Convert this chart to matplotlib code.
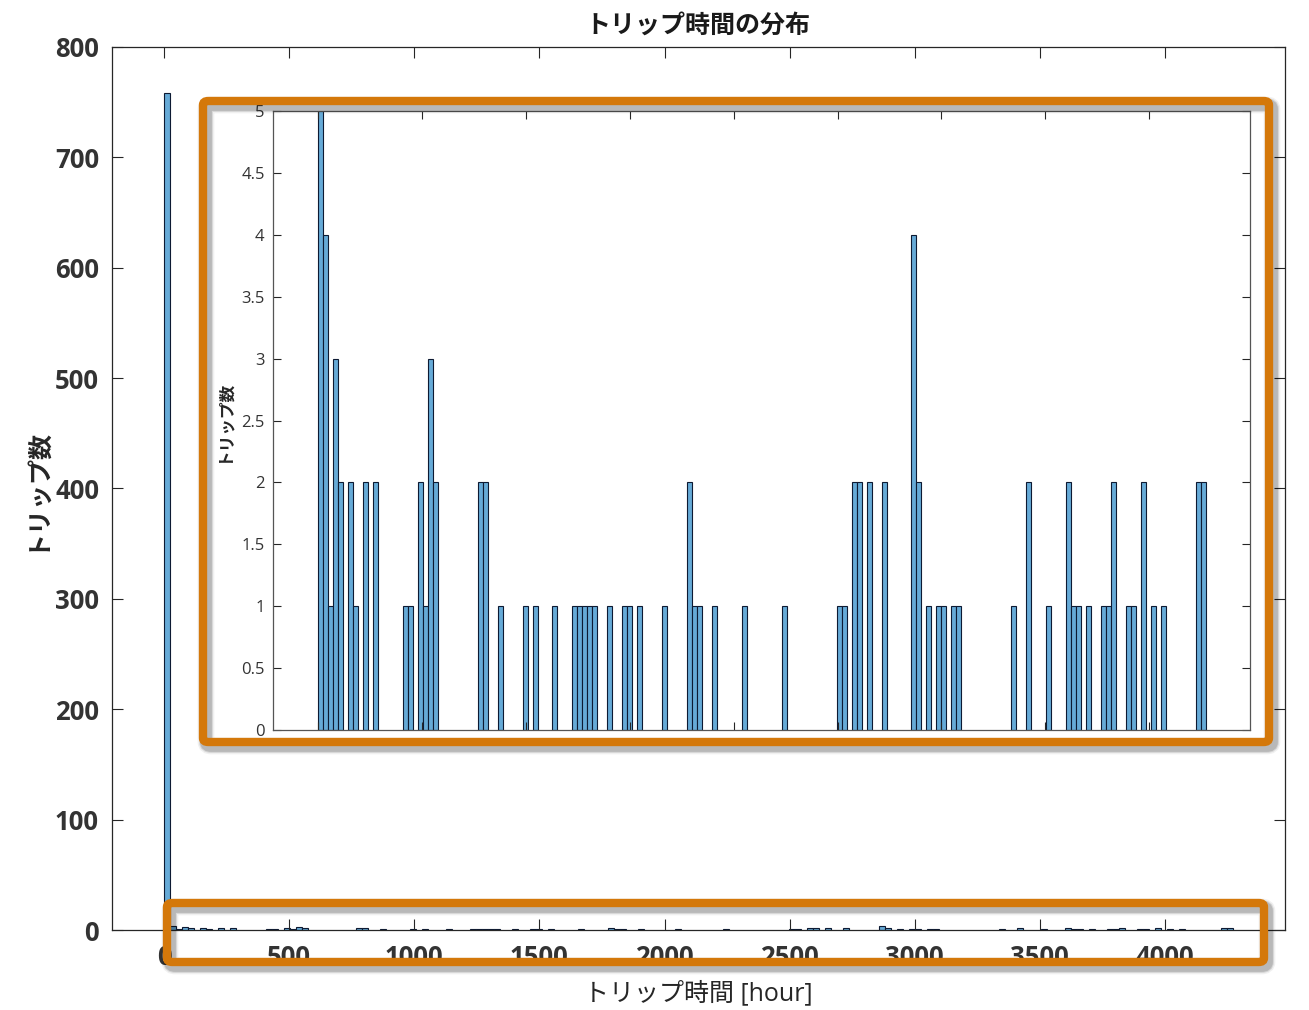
import numpy as np
import matplotlib
matplotlib.use('Agg')
import matplotlib.pyplot as plt
from matplotlib.patches import FancyBboxPatch

plt.rcParams['font.family'] = ['Open Sans', 'Noto Sans CJK JP', 'DejaVu Sans']

# histogram of trip durations, 24 hour bins (left edges in hours)
bin_width = 24
bin_index = [0, 1, 2, 3, 4, 6, 7, 9, 11, 17, 18, 20, 21, 22, 23, 32, 33, 36, 41, 43,
             47, 51, 52, 53, 54, 55, 58, 61, 62, 64, 69, 74, 75, 76, 79, 85, 93,
             104, 105, 107, 108, 110, 113, 119, 120, 122, 124, 125, 127, 128, 139,
             142, 146, 150, 151, 152, 154, 157, 158, 159, 162, 163, 165, 167, 169,
             176, 177]
trip_counts = [758, 4, 1, 3, 2, 2, 1, 2, 2, 1, 1, 2, 1, 3, 2, 2, 2, 1, 1, 1,
               1, 1, 1, 1, 1, 1, 1, 1, 1, 1, 1, 2, 1, 1, 1, 1, 1,
               1, 1, 2, 2, 2, 2, 4, 2, 1, 1, 1, 1, 1, 1,
               2, 1, 2, 1, 1, 1, 1, 1, 2, 1, 1, 2, 1, 1,
               2, 2]
bin_left = [k * bin_width for k in bin_index]

x_ticks = [0, 500, 1000, 1500, 2000, 2500, 3000, 3500, 4000]
y_ticks_main = [0, 100, 200, 300, 400, 500, 600, 700, 800]
y_ticks_inset = [0, 0.5, 1, 1.5, 2, 2.5, 3, 3.5, 4, 4.5, 5]
x_limits_main = (-210, 4480)
x_limits_inset = (-217, 4486)

bar_face = (0.40, 0.667, 0.843)
bar_edge = (0.05, 0.1, 0.2)
axis_col = '#262626'
label_col = '#333333'
orange = '#D4780A'

fig = plt.figure(figsize=(13.09, 10.10), dpi=100)

# main axes
ax = fig.add_axes([0.0852, 0.0792, 0.8965, 0.8743])
ax.bar(bin_left, trip_counts, width=bin_width, align='edge',
       color=bar_face, edgecolor=bar_edge, linewidth=0.8)
ax.set_xlim(*x_limits_main)
ax.set_ylim(0, 800)
ax.set_xticks(x_ticks)
ax.set_yticks(y_ticks_main)
ax.tick_params(direction='in', length=8, width=0.8, color=axis_col,
               top=True, right=True, labelsize=18.5, labelcolor=label_col)
ax.tick_params(axis='x', pad=10)
ax.tick_params(axis='y', pad=9)
for lab in ax.get_xticklabels() + ax.get_yticklabels():
    lab.set_fontweight('bold')
for s in ax.spines.values():
    s.set_color(axis_col)
    s.set_linewidth(0.9)
ax.set_title('トリップ時間の分布', fontsize=18, fontweight='bold', color='#1a1a1a', pad=10)
ax.set_xlabel('トリップ時間 [hour]', fontsize=18, color='#262626', labelpad=7)
ax.set_ylabel('トリップ数', fontsize=18, fontweight='bold', color='#262626', labelpad=5)

# zoomed inset of the same histogram
ins = fig.add_axes([0.2086, 0.2772, 0.7464, 0.6129])
ins.bar(bin_left, trip_counts, width=bin_width, align='edge',
        color=bar_face, edgecolor=bar_edge, linewidth=0.8)
ins.set_xlim(*x_limits_inset)
ins.set_ylim(0, 5)
ins.set_xticks(x_ticks)
ins.set_xticklabels([])
ins.set_yticks(y_ticks_inset)
ins.set_yticklabels([f'{v:g}' for v in y_ticks_inset])
ins.tick_params(direction='in', length=6, width=0.8, color=axis_col,
                top=True, right=True, labelsize=12, labelcolor=label_col, pad=6)
for s in ins.spines.values():
    s.set_color('#555555')
    s.set_linewidth(0.9)
ins.set_ylabel('トリップ数', fontsize=12, fontweight='bold', color='#262626', labelpad=6)

# orange highlight boxes (pixel coords -> figure fraction)
W, H = 1309, 1010


def add_box(x0, y0, x1, y1):
    fx, fy = x0 / W, 1 - y1 / H
    fw, fh = (x1 - x0) / W, (y1 - y0) / H
    for k, a in [(6, 0.06), (4, 0.10), (2.5, 0.14)]:
        shadow = FancyBboxPatch((fx + 3 / W, fy - 4 / H), fw, fh,
                                boxstyle='round,pad=0,rounding_size=0.004',
                                transform=fig.transFigure, fill=False,
                                edgecolor='#000000', alpha=a, linewidth=6 + k)
        fig.add_artist(shadow)
    box = FancyBboxPatch((fx, fy), fw, fh,
                         boxstyle='round,pad=0,rounding_size=0.004',
                         transform=fig.transFigure, fill=False,
                         edgecolor=orange, linewidth=6)
    fig.add_artist(box)


add_box(203, 101, 1269, 742)
add_box(167, 903, 1264, 962)

fig.savefig('out.png', dpi=100)
